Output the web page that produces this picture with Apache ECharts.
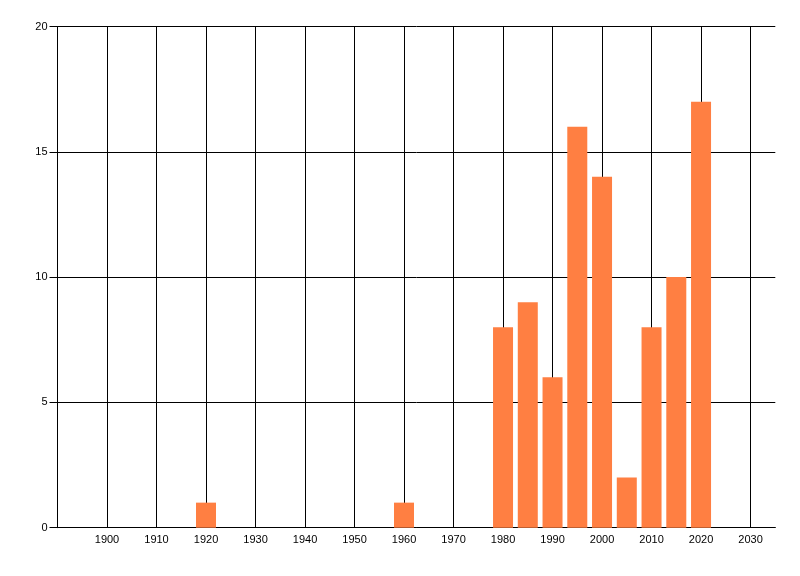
<!DOCTYPE html>
<html><head><meta charset="utf-8">
<script src="https://cdn.jsdelivr.net/npm/echarts@6/dist/echarts.min.js"></script>
<style>html,body{margin:0;padding:0;background:#fff}#c{width:800px;height:576px}</style>
</head><body><div id="c"></div>
<script>
const years = [1920, 1960, 1980, 1985, 1990, 1995, 2000, 2005, 2010, 2015, 2020];
const counts = [1, 1, 8, 9, 6, 16, 14, 2, 8, 10, 17];
const xGridYears = [1900, 1910, 1920, 1930, 1940, 1950, 1960, 1970, 1980, 1990, 2000, 2010, 2020, 2030];

const chart = echarts.init(document.getElementById('c'));
chart.setOption({
  animation: false,
  grid: { left: 57.5, right: 24.7, top: 26.5, bottom: 48.3 },
  xAxis: {
    type: 'value', min: 1890, max: 2035, interval: 10,
    axisLine: { show: true, lineStyle: { color: '#000', width: 1 } },
    axisTick: { show: false },
    splitLine: { show: false },
    axisLabel: {
      color: '#000', fontFamily: 'Liberation Sans', fontSize: 11, margin: 7,
      formatter: v => (v === 1890 || v === 2035) ? '' : String(v)
    }
  },
  yAxis: {
    type: 'value', min: 0, max: 20, interval: 5,
    axisLine: { show: true, lineStyle: { color: '#000', width: 1 } },
    axisTick: { show: true, length: 8, lineStyle: { color: '#000' } },
    splitLine: { show: true, lineStyle: { color: '#000', width: 1 } },
    axisLabel: { color: '#000', fontFamily: 'Liberation Sans', fontSize: 11, margin: 10 }
  },
  series: [
    {
      type: 'line', data: [], z: 1, silent: true,
      markLine: {
        z: 0, silent: true, symbol: 'none', animation: false,
        label: { show: false },
        lineStyle: { color: '#000', width: 1, type: 'solid' },
        emphasis: { disabled: true },
        data: xGridYears.map(y => ({ xAxis: y }))
      }
    },
    {
      type: 'bar', z: 2, barWidth: 20,
      itemStyle: { color: '#ff7f42' },
      data: years.map((y, i) => [y, counts[i]])
    }
  ]
});
</script></body></html>
